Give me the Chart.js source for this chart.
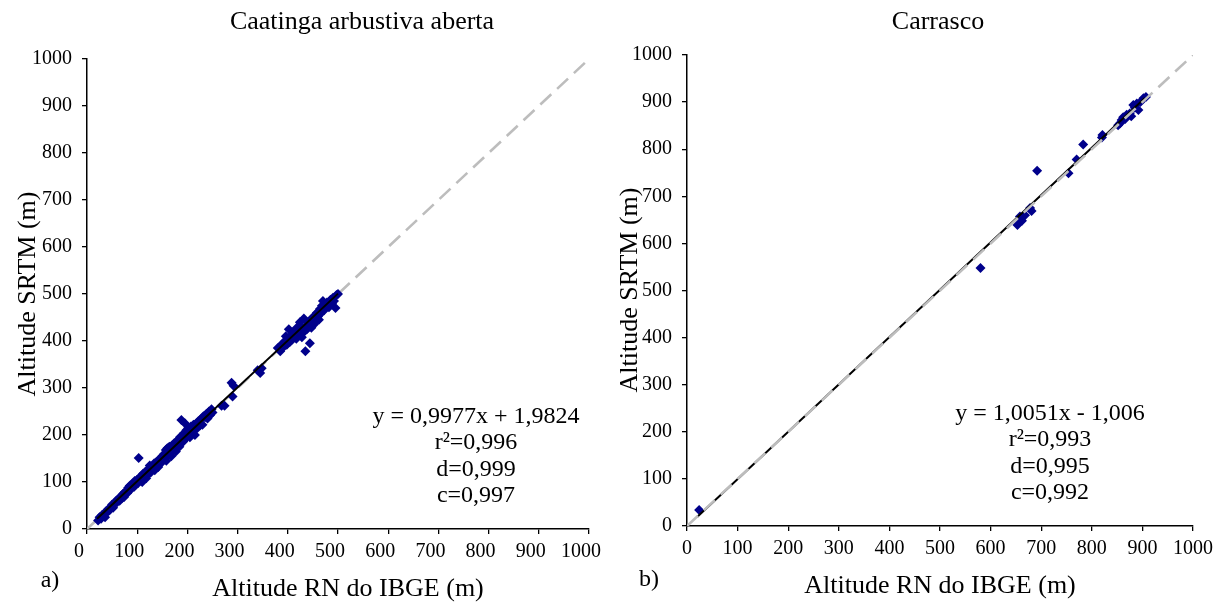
<!DOCTYPE html>
<html>
<head>
<meta charset="utf-8">
<script src="https://cdn.jsdelivr.net/npm/chart.js@4/dist/chart.umd.min.js"></script>
<style>
html,body{margin:0;padding:0;background:#fff;}
#wrap{position:relative;width:1231px;height:604px;overflow:hidden;}
canvas{position:absolute;top:0;}
#c1{left:0;}
#c2{left:615px;}
</style>
</head>
<body>
<div id="wrap">
<canvas id="c1" width="615" height="604"></canvas>
<canvas id="c2" width="616" height="604"></canvas>
</div>
<script>
// ---- Data ----
const tickValues = [0,100,200,300,400,500,600,700,800,900,1000];

// Caatinga arbustiva aberta: [Altitude RN do IBGE, Altitude SRTM]
const caatingaPoints = [
[22,18],[25,25],[28,22],[30,30],[32,28],[35,33],[36,25],[38,38],[40,35],[42,42],[45,40],[48,47],
[50,52],[52,45],[55,55],[58,60],[60,57],[62,64],[65,60],[68,70],[70,66],[72,75],[74,68],[75,78],
[78,80],[80,76],[82,88],[84,82],[85,92],[88,85],[90,95],[92,98],[94,90],[95,102],[97,94],[100,105],
[102,98],[103,151],[105,110],[107,103],[108,112],[110,100],[112,118],[114,110],[115,120],[118,108],
[120,125],[122,117],[124,130],[125,135],[127,120],[130,133],[132,128],[134,140],[135,125],[138,142],
[140,136],[142,132],[145,150],[147,140],[150,155],[152,146],[154,160],[155,150],[157,168],[158,145],
[160,172],[162,160],[164,175],[165,165],[167,170],[168,155],[170,178],[172,168],[174,183],[175,172],
[177,165],[178,185],[180,178],[182,190],[184,175],[185,195],[186,182],[188,232],[190,198],[192,186],
[194,205],[195,225],[196,192],[198,210],[200,200],[202,215],[204,205],[205,195],[207,218],[208,210],
[210,205],[212,222],[214,212],[215,200],[218,225],[220,215],[222,230],[225,220],[228,235],[230,222],
[232,240],[235,238],[238,245],[240,235],[243,250],[245,242],[248,255],[250,248],[268,262],[274,262],
[288,311],[290,282],[292,305],
[340,338],[345,332],[348,342],[380,385],[385,378],[388,392],[390,395],[392,388],[395,400],[396,410],
[398,392],[400,405],[402,425],[404,398],[405,410],[408,402],[410,418],[412,408],[414,415],[415,422],
[417,405],[418,428],[420,412],[422,420],[424,440],[425,415],[426,430],[428,408],[430,425],[432,448],
[433,420],[435,378],[436,432],[438,425],[440,440],[442,430],[444,395],[445,445],[447,428],[448,438],
[450,450],[452,435],[454,455],[455,442],[457,448],[458,460],[460,452],[462,445],[464,468],[465,458],
[467,462],[468,475],[470,485],[472,465],[474,478],[475,470],[478,482],[480,475],[482,472],[485,488],
[488,480],[490,492],[492,485],[495,470],[497,498],[500,500]
];
// Carrasco
const carrascoPoints = [
[24,34],[580,548],[653,639],[658,657],[662,648],[668,660],[678,675],[681,669],[692,754],
[754,749],[770,778],[783,810],[820,825],[821,830],[852,851],[856,855],[859,862],[862,868],
[866,864],[869,873],[875,876],[878,870],[882,894],[885,888],[889,897],[892,883],[896,900],
[902,908],[907,911]
];
// regression and 1:1 lines (endpoints in data units)
const caatingaFit = {slope:0.9977, intercept:1.9824, xFrom:20, xTo:500};
const carrascoFit = {slope:1.0051, intercept:-1.006, xFrom:20, xTo:905};
const identityLine = [[0,0],[1000,1000]];

const caatingaTexts = ['y = 0,9977x + 1,9824','r\u00B2=0,996','d=0,999','c=0,997'];
const carrascoTexts = ['y = 1,0051x - 1,006','r\u00B2=0,993','d=0,995','c=0,992'];

// ---- helpers ----
const FONT = "'Liberation Serif','Times New Roman',serif";
const toXY = arr => arr.map(p => ({x:p[0], y:p[1]}));
const fitLine = f => [{x:f.xFrom, y:f.slope*f.xFrom+f.intercept},{x:f.xTo, y:f.slope*f.xTo+f.intercept}];

function textPlugin(cfg){
  return {
    id:'texts',
    afterDraw(chart){
      const ctx = chart.ctx;
      const off = cfg.offset;
      ctx.save();
      ctx.fillStyle = '#000';
      ctx.textAlign = 'center';
      ctx.textBaseline = 'middle';
      ctx.font = '26px ' + FONT;
      ctx.fillText(cfg.title, cfg.titleX - off, cfg.titleY);
      ctx.font = '26px ' + FONT;
      ctx.fillText('Altitude RN do IBGE (m)', cfg.xTitleX - off, cfg.xTitleY);
      ctx.save();
      ctx.translate(cfg.yTitleX - off, cfg.yTitleY);
      ctx.rotate(-Math.PI/2);
      ctx.fillText('Altitude SRTM (m)', 0, 0);
      ctx.restore();
      ctx.font = '24px ' + FONT;
      ctx.fillText(cfg.tag, cfg.tagX - off, cfg.tagY);
      cfg.lines.forEach((t,i) => ctx.fillText(t, cfg.annX - off, cfg.annY[i]));
      ctx.restore();
    }
  };
}

function makeChart(id, pts, fit, yAxisW, xAxisH, pad, labelOffset, plugin, topGray){
  const points = {type:'scatter', data:toXY(pts), pointStyle:'rectRot', pointRadius:5,
    backgroundColor:'#00008b', borderColor:'#00008b', borderWidth:0, showLine:false};
  const reg = {type:'line', data:fitLine(fit), borderColor:'#000', borderWidth:2, pointRadius:0, fill:false, tension:0};
  const ident = {type:'line', data:toXY(identityLine), borderColor:'#bdbdbd', borderWidth:2.6,
    borderDash:[15,8], pointRadius:0, fill:false, tension:0};
  const datasets = topGray ? [ident, reg, points] : [reg, points, ident];
  const tickFont = {family:FONT, size:20};
  const fmt = v => String(v);
  return new Chart(document.getElementById(id), {
    type:'scatter',
    data:{datasets},
    options:{
      responsive:false, animation:false,
      layout:{padding:pad},
      plugins:{legend:{display:false}, tooltip:{enabled:false}},
      scales:{
        x:{type:'linear', min:0, max:1000,
          afterBuildTicks: s => { s.ticks = tickValues.map(v => ({value:v})); },
          afterFit: s => { s.height = xAxisH; },
          ticks:{font:tickFont, color:'#000', padding:6, labelOffset:labelOffset, maxRotation:0, autoSkip:false, callback:fmt},
          grid:{drawOnChartArea:false, drawTicks:true, tickLength:5, color:'#000', lineWidth:1.3},
          border:{display:true, color:'#000', width:1.5}},
        y:{type:'linear', min:0, max:1000,
          afterBuildTicks: s => { s.ticks = tickValues.map(v => ({value:v})); },
          afterFit: s => { s.width = yAxisW; },
          ticks:{font:tickFont, color:'#000', padding:10, autoSkip:false, callback:fmt},
          grid:{drawOnChartArea:false, drawTicks:true, tickLength:5, color:'#000', lineWidth:1.3},
          border:{display:true, color:'#000', width:1.5}}
      }
    },
    plugins:[plugin]
  });
}

makeChart('c1', caatingaPoints, caatingaFit, 87, 75, {left:0, top:59, right:24, bottom:0}, -8,
  textPlugin({offset:0, title:'Caatinga arbustiva aberta', titleX:362, titleY:22,
    xTitleX:348, xTitleY:589, yTitleX:28, yTitleY:294, tag:'a)', tagX:50, tagY:581,
    lines:caatingaTexts, annX:476, annY:[417,443,470,496]}), false);

makeChart('c2', carrascoPoints, carrascoFit, 72, 78, {left:0, top:55, right:38, bottom:0}, 0,
  textPlugin({offset:615, title:'Carrasco', titleX:938, titleY:22,
    xTitleX:940, xTitleY:586, yTitleX:630, yTitleY:290, tag:'b)', tagX:649, tagY:580,
    lines:carrascoTexts, annX:1050, annY:[414,440,467,493]}), true);
</script>
</body>
</html>
